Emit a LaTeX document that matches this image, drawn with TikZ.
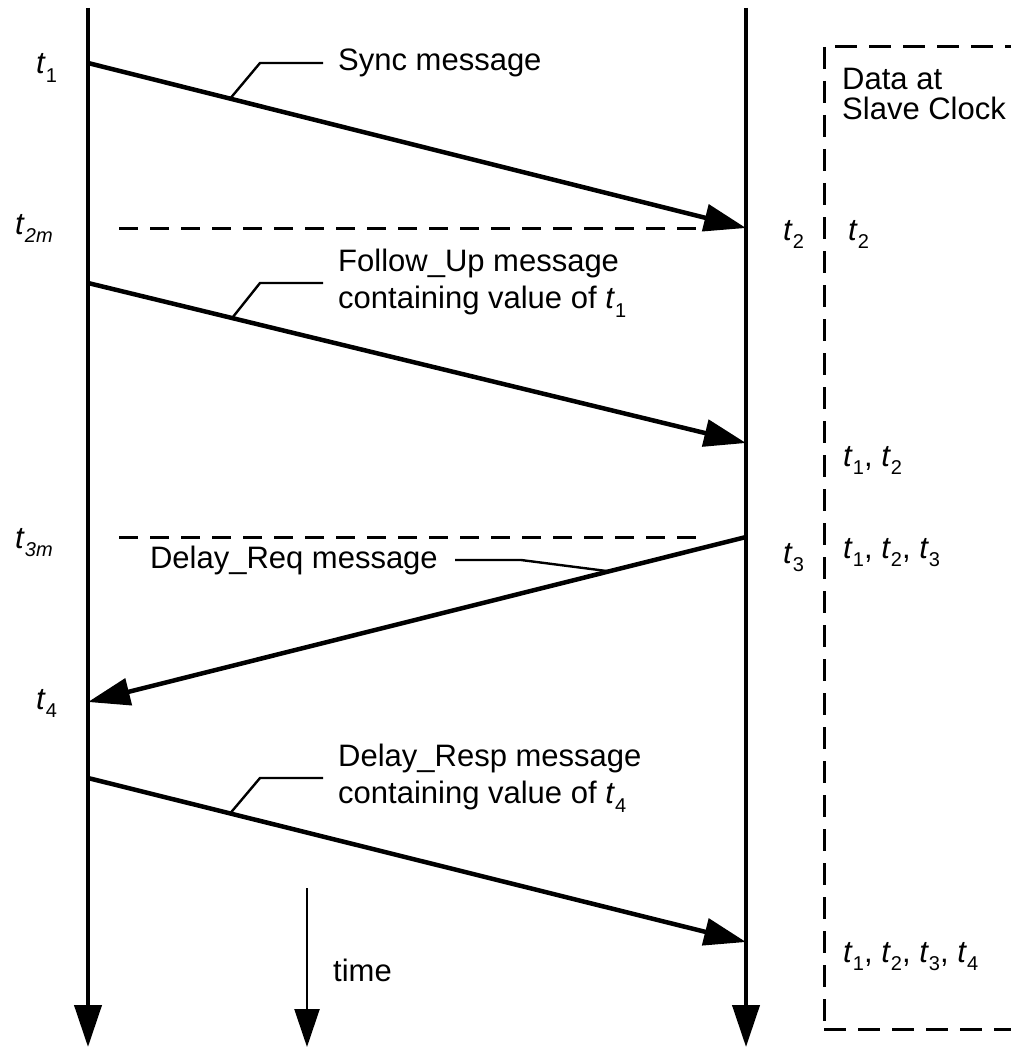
\documentclass[tikz,border=0pt]{standalone}
\usepackage{fontspec}
\setmainfont{Liberation Sans}
\usetikzlibrary{arrows.meta}
\newcommand{\tsub}[1]{\textit{t}\raisebox{-0.28em}{\fontsize{20}{20}\selectfont #1}}

\begin{document}
\begin{tikzpicture}[x=1pt,y=-1pt]
    \tikzstyle{every node}=[font=\fontsize{31}{37}\selectfont,inner sep=0pt]
    \tikzstyle{life}=[line width=4.2pt,-{Triangle[length=42pt,width=27pt]}]
    \tikzstyle{msg}=[line width=4.5pt,-{Triangle[length=42pt,width=27pt]}]
    \tikzstyle{leader}=[line width=2.4pt]
    \tikzstyle{mdash}=[line width=3pt,dash pattern=on 19pt off 12pt]
    \tikzstyle{boxdash}=[line width=3pt,dash pattern=on 22pt off 12pt]
    \useasboundingbox (0,0) rectangle (1010,1051);

    \coordinate (mtop) at (88,8);
    \coordinate (mbot) at (88,1047);
    \coordinate (stop) at (746,8);
    \coordinate (sbot) at (746,1047);
    \coordinate (ttop) at (307,888);
    \coordinate (tbot) at (307,1047);

    \draw[life] (mtop) -- (mbot);
    \draw[life] (stop) -- (sbot);
    \draw[line width=2.4pt,-{Triangle[length=38pt,width=25pt]}] (ttop) -- (tbot);
    \node[anchor=west] (time) at (333,970) {time};

    \coordinate (m1) at (88,63);
    \coordinate (s2) at (746,228);
    \coordinate (mfu) at (88,283);
    \coordinate (sfu) at (746,443);
    \coordinate (s3) at (746,537);
    \coordinate (m4) at (88,702);
    \coordinate (mdr) at (88,778);
    \coordinate (sdr) at (746,942);

    \draw[msg] (m1) -- (s2) coordinate[pos=0.216] (syncpt);
    \draw[msg] (mfu) -- (sfu) coordinate[pos=0.219] (fupt);
    \draw[msg] (s3) -- (m4) coordinate[pos=0.208] (reqpt);
    \draw[msg] (mdr) -- (sdr) coordinate[pos=0.216] (resppt);

    \draw[mdash] (119,228) -- (700,228);
    \draw[mdash] (119,537) -- (700,537);

    \node[anchor=west] (sync) at (338,63) {Sync message};
    \draw[leader] (syncpt) -- (260,63) -- ([xshift=-15pt]sync.west);

    \node[anchor=west,align=left] (fu) at (338,283) {Follow\_Up message\\containing value of \tsub{1}};
    \draw[leader] (fupt) -- (260,283) -- ([xshift=-15pt]fu.west);

    \node[anchor=east] (req) at (438,560) {Delay\_Req message};
    \draw[leader] (reqpt) -- (521,560) -- ([xshift=17pt]req.east);

    \node[anchor=west,align=left] (resp) at (338,778) {Delay\_Resp message\\containing value of \tsub{4}};
    \draw[leader] (resppt) -- (260,778) -- ([xshift=-15pt]resp.west);

    \node[anchor=base west] (lt1) at (36,74) {\tsub{1}};
    \node[anchor=base west] (lt2m) at (15,234) {\tsub{\textit{2m}}};
    \node[anchor=base west] (lt3m) at (15,548) {\tsub{\textit{3m}}};
    \node[anchor=base west] (lt4) at (36,709) {\tsub{4}};

    \node[anchor=base west] (rt2) at (783,240) {\tsub{2}};
    \node[anchor=base west] (rt3) at (783,563) {\tsub{3}};

    \draw[boxdash] (835,47) -- (1012,47);
    \draw[boxdash] (824,47) -- (824,1029);
    \draw[boxdash] (824,1029) -- (1012,1029);

    \node[anchor=north west,align=left,font=\fontsize{31}{30}\selectfont] (data) at (842,68) {Data at\\Slave Clock};
    \node[anchor=base west] (d2) at (848,240) {\tsub{2}};
    \node[anchor=base west] (d12) at (843,466) {\tsub{1}, \tsub{2}};
    \node[anchor=base west] (d123) at (843,558) {\tsub{1}, \tsub{2}, \tsub{3}};
    \node[anchor=base west] (d1234) at (843,962) {\tsub{1}, \tsub{2}, \tsub{3}, \tsub{4}};

\end{tikzpicture}
\end{document}
